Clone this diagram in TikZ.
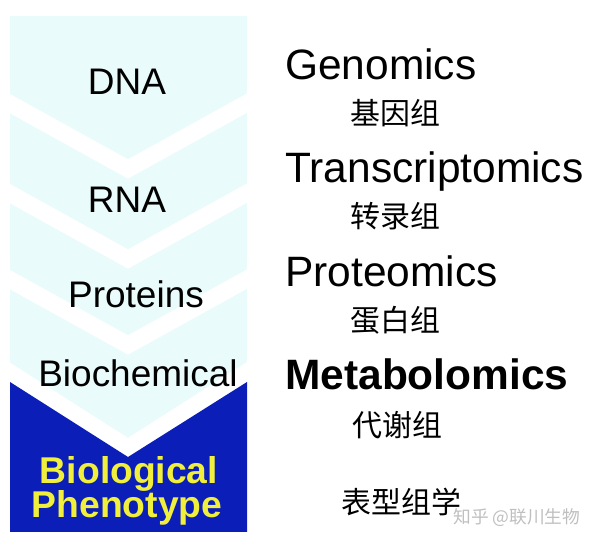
\documentclass[tikz,border=0pt]{standalone}
\usepackage{fontspec}
\setmainfont{Liberation Sans}
\newfontfamily\cjk{Noto Sans CJK SC}
\definecolor{palecyan}{RGB}{234, 251, 251}
\definecolor{phenoblue}{RGB}{12, 30, 184}
\definecolor{phenoyellow}{RGB}{240, 240, 60}
\tikzset{
  level/.style={inner sep=0pt, anchor=base, font=\fontsize{26.3}{30}\selectfont},
  omics/.style={inner sep=0pt, anchor=base west, font=\fontsize{30.2}{34}\selectfont},
  zh/.style={inner sep=0pt, anchor=west, font=\cjk\fontsize{21.3}{24}\selectfont},
  pheno/.style={inner sep=0pt, anchor=base, text=phenoyellow, font=\bfseries\fontsize{26.5}{30}\selectfont},
  whiteband/.style={white, line width=12pt, line join=miter}
}
\begin{document}
\begin{tikzpicture}[x=0.025cm, y=-0.025cm]
            \useasboundingbox (0,0) rectangle (600,543);
            % Level panel
            \fill[palecyan]                                         ( 10, 16) rectangle (247,532);
            \begin{scope}
              \clip                                                 ( 10, 16) rectangle (247,532);
              % White chevron gaps
              \draw[whiteband] ( -2, 97) -- (128,169) -- (258, 97);
              \draw[whiteband] ( -2,187) -- (128,259) -- (258,187);
              \draw[whiteband] ( -2,273) -- (128,345) -- (258,273);
              \draw[whiteband] ( -2,365) -- (128,448) -- (258,365);
              % Phenotype chevron
              \fill[phenoblue] ( 10,382) -- (128,457) -- (247,382) -- (247,532) -- ( 10,532) -- cycle;
            \end{scope}
            % Levels
            \node[level] (dna)   at (127, 95) {DNA};
            \node[level] (rna)   at (127,213) {RNA};
            \node[level] (prot)  at (136,308) {Proteins};
            \node[level] (bioch) at (138,387) {Biochemical};
            \node[pheno] (biol)  at (129,484) {Biological};
            \node[pheno] (pheno) at (127,518) {Phenotype};
            % Omics
            \node[omics] (gen)   at (285, 80) {Genomics};
            \node[omics] (trans) at (285,183) {Transcriptomics};
            \node[omics] (prote) at (285,287) {Proteomics};
            \node[omics, font=\bfseries\fontsize{30.2}{34}\selectfont] (meta) at (285,390) {Metabolomics};
            \node[zh] (genzh)    at (350,113) {基因组};
            \node[zh] (transzh)  at (350,216) {转录组};
            \node[zh] (protezh)  at (350,320) {蛋白组};
            \node[zh] (metazh)   at (352,425) {代谢组};
            \node[zh] (phenozh)  at (341,502) {表型组学};
            % Watermark
            \node[inner sep=0pt, anchor=west, text=black!25, font=\cjk\fontsize{12.6}{14}\selectfont] (mark) at (453,518) {知乎 @联川生物};
\end{tikzpicture}
\end{document}
